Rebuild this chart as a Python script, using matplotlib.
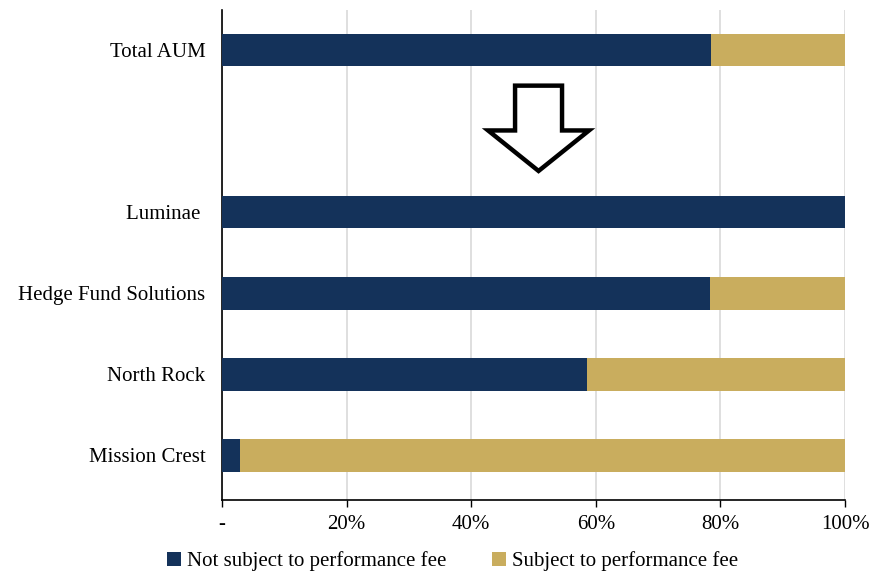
import matplotlib
matplotlib.use("Agg")
import matplotlib.pyplot as plt
from matplotlib.patches import Polygon
from matplotlib.ticker import FixedLocator, FixedFormatter

plt.rcParams["font.family"] = ["Liberation Serif", "DejaVu Serif"]

categories = ["Total AUM", "", "Luminae ", "Hedge Fund Solutions", "North Rock", "Mission Crest"]
not_subject = [78.5, 0.0, 100.0, 78.3, 58.6, 2.9]
subject = [21.5, 0.0, 0.0, 21.7, 41.4, 97.1]
tick_values = [0, 20, 40, 60, 80, 100]
tick_labels = ["-", "20%", "40%", "60%", "80%", "100%"]

navy = "#14325A"
gold = "#C9AD5E"

fig = plt.figure(figsize=(8.69, 5.72), dpi=100)
ax = fig.add_axes([0.2555, 0.126, 0.717, 0.857])

ypos = list(range(len(categories)))
ax.barh(ypos, not_subject, height=0.4, color=navy, label="Not subject to performance fee", zorder=3)
ax.barh(ypos, subject, left=not_subject, height=0.4, color=gold, label="Subject to performance fee", zorder=3)

ax.set_ylim(5.55, -0.5)
ax.set_xlim(0, 100)
ax.set_yticks(ypos)
ax.set_yticklabels(categories, fontsize=15)
ax.tick_params(axis="y", length=0, pad=12)

ax.xaxis.set_major_locator(FixedLocator(tick_values))
ax.xaxis.set_major_formatter(FixedFormatter(tick_labels))
ax.tick_params(axis="x", labelsize=15, length=5, width=1, direction="out", pad=6)
ax.grid(axis="x", color="#D9D9D9", linewidth=1.2, zorder=0)

for side in ("top", "right"):
    ax.spines[side].set_visible(False)
for side in ("left", "bottom"):
    ax.spines[side].set_color("black")
    ax.spines[side].set_linewidth(1.2)

# Open down-arrow between the total and the per-strategy bars
cx = 50.8
shaft = 3.77
head = 8.1
arrow_pts = [
    (cx - shaft, 0.437), (cx + shaft, 0.437), (cx + shaft, 0.99), (cx + head, 0.99),
    (cx, 1.49), (cx - head, 0.99), (cx - shaft, 0.99),
]
ax.add_patch(Polygon(arrow_pts, closed=True, facecolor="white", edgecolor="black",
                     linewidth=3.2, zorder=4, joinstyle="miter"))

ax.legend(loc="center", bbox_to_anchor=(0.37, -0.125), ncol=2, frameon=False,
          fontsize=15, handlelength=0.65, handleheight=0.65, handletextpad=0.3,
          columnspacing=2.2, borderaxespad=0)

fig.savefig("out.png", dpi=100)
